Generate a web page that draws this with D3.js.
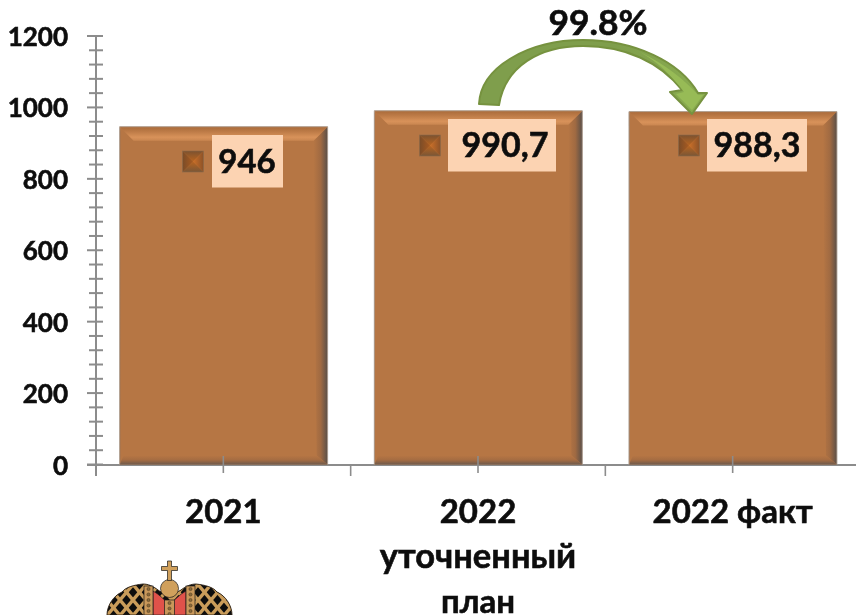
<!DOCTYPE html>
<html><head><meta charset="utf-8">
<script src="https://cdn.jsdelivr.net/npm/d3@7"></script>
<style>html,body{margin:0;background:#fff}svg{display:block}text{font-family:Lato,Carlito,sans-serif;font-weight:700;fill:#0a0a0a;stroke:#0a0a0a;stroke-width:.55px}</style>
</head><body><svg id="c" width="856" height="615"></svg>
<script>
const categories = ["2021","2022 уточненный план","2022 факт"];
const values = [946,990.7,988.3];
const valueLabels = ["946","990,7","988,3"];
const yTicks = [0,200,400,600,800,1000,1200];
const categoryLines = [["2021"],["2022","уточненный","план"],["2022 факт"]];
const percentLabel = "99.8%";

const svg = d3.select("#c");
const defs = svg.append("defs");
const y = d3.scaleLinear().domain([0,1200]).range([464.5,36]);
const x = d3.scaleBand().domain(categories).range([96,860]).paddingInner(0).paddingOuter(0);
const barW = 208;
defs.append("filter").attr("id","soft").append("feGaussianBlur").attr("stdDeviation",0.4);

function grad(id,x1,y1,x2,y2,stops){
  const g=defs.append("linearGradient").attr("id",id).attr("x1",x1).attr("y1",y1).attr("x2",x2).attr("y2",y2);
  stops.forEach(s=>g.append("stop").attr("offset",s[0]).attr("stop-color",s[1]));
}
grad("bt",0,0,0,1,[[0,"#a96a3a"],[0.35,"#bd7b47"],[0.75,"#d8925a"],[1,"#c98650"]]);
grad("bb",0,0,0,1,[[0,"#b67644"],[0.5,"#a56c42"],[1,"#6e5a4c"]]);
grad("bl",0,0,1,0,[[0,"#8f6240"],[0.3,"#b67644"],[1,"#b67644"]]);
grad("br",0,0,1,0,[[0,"#b67644"],[0.5,"#a06a42"],[1,"#5a4f48"]]);
grad("mT",0,0,0,1,[[0,"#7c5230"],[1,"#b8641f"]]);
grad("mB",0,1,0,0,[[0,"#7a5636"],[1,"#b8641f"]]);
grad("mL",0,0,1,0,[[0,"#7a4c28"],[1,"#a85a20"]]);
grad("mR",1,0,0,0,[[0,"#8c5228"],[1,"#cc7028"]]);

// axis lines and ticks
const axis = svg.append("g").attr("stroke","#8c8c8c").attr("fill","none");
axis.append("line").attr("x1",96).attr("x2",96).attr("y1",y(1200)).attr("y2",476).attr("stroke-width",2);
axis.append("line").attr("x1",87).attr("x2",860).attr("y1",y(0)+0.5).attr("y2",y(0)+0.5).attr("stroke-width",2);
d3.range(0,1201,40).forEach(v=>{
  const major=v%200===0;
  axis.append("line").attr("x1",major?87:89).attr("x2",103).attr("y1",y(v)).attr("y2",y(v)).attr("stroke-width",2);
});

// bars
const bevT=14, bevR=11, bevB=9, bevL=4;
categories.forEach((c,i)=>{
  const x0=x(c)+(x.bandwidth()-barW)/2+0.3, x1=x0+barW, t=y(values[i]), b=y(0);
  const g=svg.append("g");
  g.append("rect").attr("x",x0).attr("y",t).attr("width",barW).attr("height",b-t).attr("fill","#b67644");
  g.append("polygon").attr("points",[[x0,t],[x0+bevL,t+bevT],[x0+bevL,b-bevB],[x0,b]].join(" ")).attr("fill","url(#bl)");
  g.append("polygon").attr("points",[[x1,t],[x1-bevT,t+bevT],[x1-bevR,b-bevB],[x1,b]].join(" ")).attr("fill","url(#br)");
  g.append("polygon").attr("points",[[x0,b],[x1,b],[x1-bevR,b-bevB],[x0+bevL,b-bevB]].join(" ")).attr("fill","url(#bb)");
  g.append("polygon").attr("points",[[x0,t],[x1,t],[x1-bevT,t+bevT],[x0+bevT,t+bevT]].join(" ")).attr("fill","url(#bt)");
  g.append("path").attr("d",`M${x0},${b} V${t} H${x1} V${b}`).attr("fill","none").attr("stroke","#b0a498").attr("stroke-width",0.9);
});

// category ticks (drawn over bars)
const xt = svg.append("g").attr("stroke","#8c8c8c").attr("stroke-width",1.6);
categories.forEach(c=>{
  const s=x(c), m=s+x.bandwidth()/2;
  xt.append("line").attr("x1",m).attr("x2",m).attr("y1",456).attr("y2",473);
  xt.append("line").attr("x1",s).attr("x2",s).attr("y1",465).attr("y2",476);
});

// y labels
svg.append("g").selectAll("text").data(yTicks).join("text")
  .attr("x",68).attr("y",d=>y(d)+10).attr("text-anchor","end").attr("font-size",26).text(d=>d).style("filter","url(#soft)");

// value labels with markers
const boxes=[{w:71,mx:193,cx:247,bx:212,by:135,fs:33},{w:108,mx:430,cx:505,bx:448,by:119,fs:34},{w:100,mx:689,cx:757,bx:707,by:119,fs:34}];
categories.forEach((c,i)=>{
  const b=boxes[i], my=b.by+26.5, r=10.5, m=b.mx;
  const g=svg.append("g");
  g.append("polygon").attr("points",[[m-r,my-r],[m+r,my-r],[m,my]].join(" ")).attr("fill","url(#mT)");
  g.append("polygon").attr("points",[[m-r,my+r],[m+r,my+r],[m,my]].join(" ")).attr("fill","url(#mB)");
  g.append("polygon").attr("points",[[m-r,my-r],[m-r,my+r],[m,my]].join(" ")).attr("fill","url(#mL)");
  g.append("polygon").attr("points",[[m+r,my-r],[m+r,my+r],[m,my]].join(" ")).attr("fill","url(#mR)");
  g.append("rect").attr("x",m-r).attr("y",my-r).attr("width",2*r).attr("height",2*r).attr("fill","none").attr("stroke","#8a6a4c").attr("stroke-width",.6);
  g.append("rect").attr("x",b.bx).attr("y",b.by).attr("width",b.w).attr("height",52.5).attr("fill","#fcd3b2");
  g.append("text").attr("x",b.cx).attr("y",b.by+38).attr("text-anchor","middle").attr("font-size",b.fs).text(valueLabels[i]).style("filter","url(#soft)");
});

// category labels
categories.forEach((c,i)=>{
  const m=x(c)+x.bandwidth()/2;
  categoryLines[i].forEach((t,k)=>{
    svg.append("text").attr("x",m).attr("y",523+k*45).attr("text-anchor","middle").attr("font-size",t==="уточненный"?34.5:33).text(t).style("filter","url(#soft)");
  });
});

// arrow
grad("arr",0,0,1,0,[[0,"#7f9e4c"],[0.6,"#7f9e4c"],[1,"#8aad50"]]);
svg.append("path").attr("fill","url(#arr)").attr("stroke","#76923f").attr("stroke-width",2).attr("stroke-linejoin","round")
  .attr("d","M479,104 C481,66 530,40 583,40 C635,40 680,62 698,93 L707,93 L692,114 L670,92 L682,90 C660,62 625,46 583,46 C540,46 505,66 499,105 Z");
svg.append("path").attr("fill","#97bb56").attr("d","M640,52 C665,64 685,80 698,95 L703,95 L692,110 L676,94 L684,92 C672,76 658,62 640,52 Z");
svg.append("text").attr("x",598).attr("y",35).attr("text-anchor","middle").attr("font-size",33.5).attr("textLength",99).attr("lengthAdjust","spacingAndGlyphs").text(percentLabel).style("filter","url(#soft)");

// crown emblem
const outline="M107,615 C107,606 113,596 122,592 C126,587 134,585 143,584 C148,584 153,586 158,590 C162,594 176,594 181,590 C186,586 191,584 196,584 C205,585 213,587 217,592 C226,596 232,606 232,615 Z";
const cr=svg.append("g");
defs.append("clipPath").attr("id","crownClip").append("path").attr("d",outline);
cr.append("path").attr("d",outline).attr("fill","#0d0d0d");
const lat=cr.append("g").attr("clip-path","url(#crownClip)").attr("stroke","#c99c5a").attr("stroke-width",3.4);
d3.range(60,260,13).forEach(p=>{
  lat.append("line").attr("x1",p).attr("y1",625).attr("x2",p+42).attr("y2",575);
  lat.append("line").attr("x1",p+42).attr("y1",625).attr("x2",p).attr("y2",575);
});
cr.append("path").attr("d",outline).attr("fill","none").attr("stroke","#2b2015").attr("stroke-width",.9);
cr.append("path").attr("d","M153,591 C159,594 164,600 169.5,604 C175,600 180,594 186,591 L186,615 L153,615 Z").attr("fill","#e0524a").attr("stroke","#1a1a1a").attr("stroke-width",0.7);
[[144,9],[186,9],[164.5,10]].forEach((d,i)=>{
  const top=i===2?600:586;
  cr.append("rect").attr("x",d[0]).attr("y",top).attr("width",d[1]).attr("height",615-top).attr("fill","#c9985a").attr("stroke","#1a1a1a").attr("stroke-width",0.7);
  d3.range(top+3,615,5.5).forEach(yy=>cr.append("circle").attr("cx",d[0]+d[1]/2).attr("cy",yy).attr("r",1.6).attr("fill","#8a6a3a").attr("stroke","#2b2015").attr("stroke-width",.4));
});
cr.append("circle").attr("cx",169.5).attr("cy",588.5).attr("r",9).attr("fill","#d0a05c").attr("stroke","#1a1a1a").attr("stroke-width",0.7);
cr.append("path").attr("d","M167.5,561 h4 v5.5 h6 v4 h-6 v10 h-4 v-10 h-6 v-4 h6 Z").attr("fill","#d0a05c").attr("stroke","#1a1a1a").attr("stroke-width",0.7);
</script></body></html>
